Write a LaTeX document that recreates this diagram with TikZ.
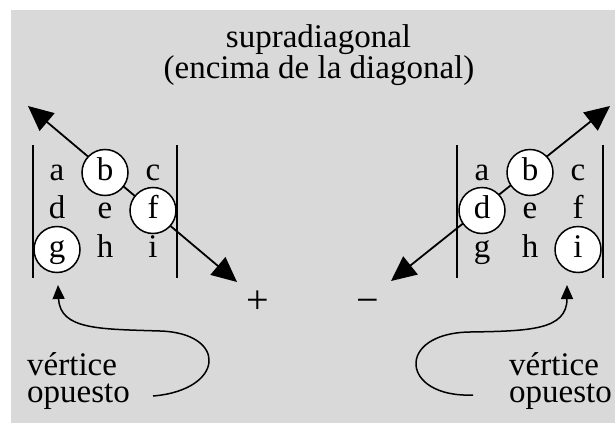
\documentclass[tikz,border=0pt]{standalone}
\usepackage{fontspec}
\setmainfont{Liberation Serif}
\usetikzlibrary{arrows.meta}
\definecolor{bg}{RGB}{217,217,217}
\begin{document}
\begin{tikzpicture}[x=1pt,y=-1pt,
  txt/.style={inner sep=0pt, font=\fontsize{33}{33}\selectfont},
  sign/.style={inner sep=0pt, font=\fontsize{40}{40}\selectfont},
  entry/.style={txt, text height=22.5pt, text depth=7.5pt, anchor=center},
  ring/.style={entry, circle, draw, fill=white, line width=1.5pt, minimum size=46pt},
  bar/.style={line width=2.8pt},
  diag/.style={line width=1.8pt, {Triangle[length=25pt,width=23pt]}-{Triangle[length=25pt,width=23pt]}},
  curv/.style={line width=1.5pt, -{Triangle[length=14pt,width=12pt]}}]
\useasboundingbox (0,0) rectangle (615,423);
\fill[bg] (11,10) rectangle (615,423);

% titles
\node[txt, anchor=base] (t1) at (318.5,47) {supradiagonal};
\node[txt, anchor=base] (t2) at (319,78) {(encima de la diagonal)};

% left matrix bars
\draw[bar] (33,145) -- (33,278);
\draw[bar] (177,145) -- (177,278);
% right matrix bars
\draw[bar] (457,145) -- (457,278);
\draw[bar] (603,145) -- (603,278);

% diagonal arrows
\coordinate (lA) at (28,106);
\coordinate (lB) at (237,282);
\coordinate (rA) at (391,281);
\coordinate (rB) at (610,106);
\draw[diag] (lA) -- (lB);
\draw[diag] (rA) -- (rB);

% left matrix entries
\node[entry] (La) at (57,172.5) {a};
\node[ring]  (Lb) at (105,172.5) {b};
\node[entry] (Lc) at (153,172.5) {c};
\node[entry] (Ld) at (57,210.5) {d};
\node[entry] (Le) at (105,210.5) {e};
\node[ring]  (Lf) at (153,210.5) {f};
\node[ring]  (Lg) at (57,249.5) {g};
\node[entry] (Lh) at (105,249.5) {h};
\node[entry] (Li) at (153,249.5) {i};

% right matrix entries
\node[entry] (Ra) at (482,172.5) {a};
\node[ring]  (Rb) at (530,172.5) {b};
\node[entry] (Rc) at (578,172.5) {c};
\node[ring]  (Rd) at (482,210.5) {d};
\node[entry] (Re) at (530,210.5) {e};
\node[entry] (Rf) at (578,210.5) {f};
\node[entry] (Rg) at (482,249.5) {g};
\node[entry] (Rh) at (530,249.5) {h};
\node[ring]  (Ri) at (578,249.5) {i};

% signs
\node[sign, anchor=base] (plus) at (258,313) {+};
\node[sign, anchor=base] (minus) at (368,313) {−};

% bottom labels
\node[txt, anchor=base west] (lv) at (27,375) {vértice};
\node[txt, anchor=base west] (lo) at (27,402) {opuesto};
\node[txt, anchor=base west] (rv) at (509,375) {vértice};
\node[txt, anchor=base west] (ro) at (509,402) {opuesto};

% curved arrows
\coordinate (ls) at (153,396);
\coordinate (lm) at (160,331);
\coordinate (lt) at (58,285);
\coordinate (rs) at (473,395);
\coordinate (rm) at (470,332);
\coordinate (rt) at (567,285);
\draw[curv] (ls) .. controls (225,390) and (228,333) .. (lm)
  .. controls (100,329) and (60,330) .. (lt);
\draw[curv] (rs) .. controls (400,398) and (395,333) .. (rm)
  .. controls (530,331) and (567,330) .. (rt);
\end{tikzpicture}
\end{document}
